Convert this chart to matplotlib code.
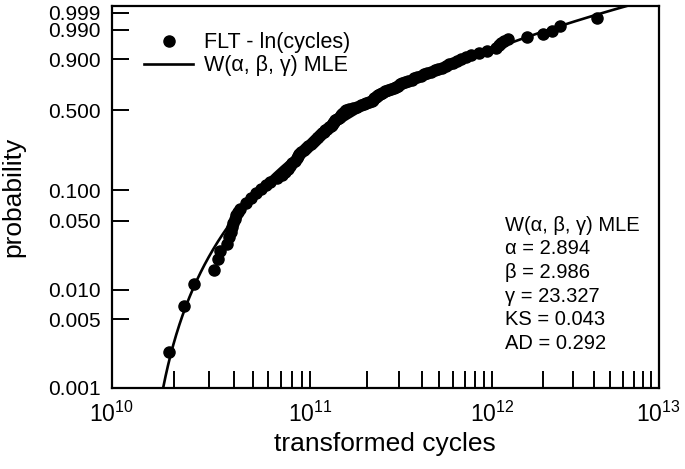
import numpy as np
import matplotlib
matplotlib.use("Agg")
import matplotlib.pyplot as plt
from matplotlib.ticker import FixedLocator, FixedFormatter, NullFormatter

plt.rcParams['font.family'] = ['Liberation Sans', 'DejaVu Sans']
plt.rcParams['mathtext.default'] = 'regular'

# fitted 3-parameter Weibull on ln(cycles)
alpha = 2.894
beta = 2.986
gamma = 23.327
ks_stat = 0.043
ad_stat = 0.292

# probability (plotting position) of each failure
prob = [0.0023, 0.0068, 0.0114, 0.0159, 0.0205, 0.025, 0.0295, 0.0341, 0.0386, 0.0432,
        0.0477, 0.0523, 0.0568, 0.0614, 0.066, 0.075, 0.084, 0.093, 0.102, 0.111,
        0.12, 0.13, 0.14, 0.15, 0.16, 0.17, 0.18, 0.19, 0.20, 0.21,
        0.22, 0.23, 0.24, 0.25, 0.26, 0.27, 0.28, 0.29, 0.30, 0.31,
        0.32, 0.33, 0.34, 0.35, 0.36, 0.37, 0.38, 0.39, 0.40, 0.41,
        0.42, 0.43, 0.44, 0.45, 0.46, 0.47, 0.48, 0.49, 0.50, 0.51,
        0.52, 0.53, 0.54, 0.55, 0.56, 0.57, 0.58, 0.59, 0.60, 0.61,
        0.62, 0.63, 0.64, 0.65, 0.66, 0.67, 0.68, 0.69, 0.70, 0.71,
        0.72, 0.73, 0.74, 0.75, 0.76, 0.77, 0.78, 0.79, 0.80, 0.81,
        0.82, 0.83, 0.84, 0.85, 0.86, 0.87, 0.88, 0.89, 0.90, 0.91,
        0.92, 0.93, 0.94, 0.95, 0.96, 0.967, 0.9705, 0.975, 0.9795, 0.9841,
        0.9886, 0.9932, 0.9977]

# ln(cycles) of each failure
ln_cycles = [23.671, 23.842, 23.956, 24.187, 24.234, 24.253, 24.331, 24.353, 24.376, 24.393,
             24.409, 24.429, 24.446, 24.458, 24.487, 24.552, 24.618, 24.672, 24.735, 24.791,
             24.848, 24.920, 24.981, 25.026, 25.056, 25.082, 25.106, 25.147, 25.160, 25.178,
             25.196, 25.220, 25.247, 25.275, 25.305, 25.336, 25.360, 25.382, 25.404, 25.421,
             25.445, 25.465, 25.490, 25.512, 25.534, 25.555, 25.580, 25.592, 25.604, 25.617,
             25.635, 25.654, 25.672, 25.686, 25.697, 25.709, 25.727, 25.746, 25.764, 25.802,
             25.851, 25.901, 25.951, 25.988, 26.019, 26.050, 26.082, 26.100, 26.119, 26.138,
             26.150, 26.169, 26.188, 26.219, 26.251, 26.289, 26.327, 26.364, 26.390, 26.415,
             26.440, 26.472, 26.504, 26.542, 26.587, 26.619, 26.657, 26.708, 26.747, 26.785,
             26.837, 26.888, 26.933, 26.979, 27.030, 27.069, 27.121, 27.167, 27.226, 27.291,
             27.356, 27.462, 27.567, 27.680, 27.726, 27.753, 27.793, 27.850, 28.105, 28.322,
             28.436, 28.550, 29.056]

y_ticks = [0.001, 0.005, 0.010, 0.050, 0.100, 0.500, 0.900, 0.990, 0.999]
x_major = [1e10, 1e11, 1e12, 1e13]
x_major_labels = [r'$10^{10}$', r'$10^{11}$', r'$10^{12}$', r'$10^{13}$']


# axis transforms: x is log(ln(cycles)), y is the Weibull probability scale
def fwd_x(x):
    x = np.maximum(np.asarray(x, dtype=float), 1.0001)
    return np.log(np.log(x))


def inv_x(u):
    return np.exp(np.exp(u))


def fwd_y(p):
    p = np.clip(np.asarray(p, dtype=float), 1e-15, 1 - 1e-15)
    return np.log(-np.log1p(-p))


def inv_y(w):
    return -np.expm1(-np.exp(w))


fig = plt.figure(figsize=(6.85, 4.69), dpi=100)
ax = fig.add_axes([0.16307, 0.17335, 0.79854, 0.81450])
ax.set_xscale('function', functions=(fwd_x, inv_x))
ax.set_yscale('function', functions=(fwd_y, inv_y))

# data points
pts, = ax.plot(np.exp(ln_cycles), prob, 'o', color='black', ms=8, label='FLT - ln(cycles)')

# MLE curve from the fitted parameters
w = np.linspace(-7.5, 2.3, 500)
p_curve = inv_y(w)
L_curve = gamma + beta * (-np.log1p(-p_curve)) ** (1.0 / alpha)
line, = ax.plot(np.exp(L_curve), p_curve, '-', color='black', lw=1.9,
                label='W(α, β, γ) MLE')

ax.set_xlim(1e10, 1e13)
ax.set_ylim(0.001, 0.99971)

ax.xaxis.set_major_locator(FixedLocator(x_major))
ax.xaxis.set_major_formatter(FixedFormatter(x_major_labels))
minors = [k * 10.0 ** e for e in (10, 11, 12) for k in range(2, 10)]
ax.xaxis.set_minor_locator(FixedLocator(minors))
ax.xaxis.set_minor_formatter(NullFormatter())

ax.yaxis.set_major_locator(FixedLocator(y_ticks))
ax.yaxis.set_major_formatter(FixedFormatter(['%.3f' % v for v in y_ticks]))
ax.yaxis.set_minor_locator(FixedLocator([]))

ax.tick_params(which='both', direction='in', length=12, width=1.4,
               top=False, right=False)
ax.tick_params(axis='y', labelsize=15, pad=8)
ax.tick_params(axis='x', labelsize=16.5, pad=10)
for s in ax.spines.values():
    s.set_linewidth(1.6)

ax.set_xlabel('transformed cycles', fontsize=19)
ax.set_ylabel('probability', fontsize=19)
ax.xaxis.set_label_coords(0.5, -0.115)
ax.yaxis.set_label_coords(-0.1585, 0.5)

ax.legend(handles=[pts, line], loc='upper left', bbox_to_anchor=(0.043, 0.953),
          frameon=False, fontsize=15.5, handlelength=2.3, handletextpad=0.5,
          labelspacing=0.1, borderaxespad=0)

stats = ['W(α, β, γ) MLE',
         'α = %.3f' % alpha,
         'β = %.3f' % beta,
         'γ = %.3f' % gamma,
         'KS = %.3f' % ks_stat,
         'AD = %.3f' % ad_stat]
ax.text(0.719, 0.450, '\n'.join(stats), transform=ax.transAxes, va='top', ha='left',
        fontsize=14.5, linespacing=1.31)

fig.savefig('out.png', dpi=100)
